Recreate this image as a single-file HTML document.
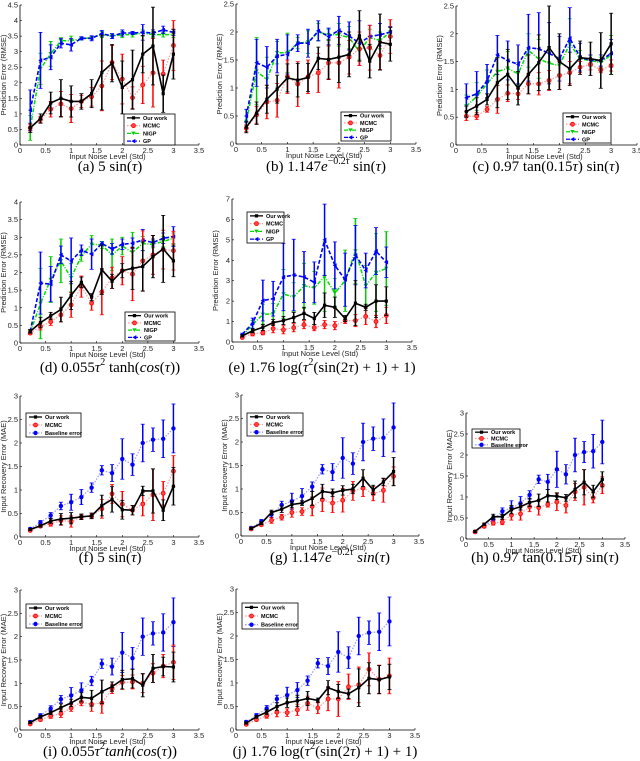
<!DOCTYPE html>
<html><head><meta charset="utf-8">
<style>
body{margin:0;background:#fff;width:640px;height:761px;overflow:hidden;position:relative;}
svg{position:absolute;left:0;top:0;}
.cap{position:absolute;font-family:"Liberation Serif",serif;font-size:15px;line-height:15px;color:#000;white-space:nowrap;transform:translateX(-50%);}
.cap i{font-style:italic;}
.cap sup{font-size:10px;vertical-align:0;position:relative;top:-7px;line-height:0;}
</style></head>
<body>
<svg id="fig" width="640" height="761"></svg>
<div class="cap" style="left:110px;top:160px">(a) 5 sin(<i>τ</i>)</div>
<div class="cap" style="left:326px;top:160px">(b) 1.147<i>e</i><sup>−0.2<i>τ</i></sup> sin(<i>τ</i>)</div>
<div class="cap" style="left:546px;top:160px">(c) 0.97 tan(0.15<i>τ</i>) sin(<i>τ</i>)</div>
<div class="cap" style="left:110px;top:361px">(d) 0.055<i>τ</i><sup>2</sup> tanh(<i>cos</i>(<i>τ</i>))</div>
<div class="cap" style="left:322px;top:361px">(e) 1.76 log(<i>τ</i><sup>2</sup>(sin(2<i>τ</i>) + 1) + 1)</div>
<div class="cap" style="left:110px;top:551px">(f) 5 sin(<i>τ</i>)</div>
<div class="cap" style="left:330px;top:551px">(g) 1.147<i>e</i><sup>−0.2<i>τ</i></sup> <i>sin</i>(<i>τ</i>)</div>
<div class="cap" style="left:545px;top:551px">(h) 0.97 tan(0.15<i>τ</i>) sin(<i>τ</i>)</div>
<div class="cap" style="left:110px;top:745px">(i) 0.055<i>τ</i><sup>2</sup><i>tanh</i>(<i>cos</i>(<i>τ</i>))</div>
<div class="cap" style="left:325px;top:745px">(j) 1.76 log(<i>τ</i><sup>2</sup>(sin(2<i>τ</i>) + 1) + 1)</div>
<script>
const xs=[0.2,0.4,0.6,0.8,1.0,1.2,1.4,1.6,1.8,2.0,2.2,2.4,2.6,2.8,3.0];
const xTicks=["0","0.5","1","1.5","2","2.5","3","3.5"];
// (a)
const aOur=[0.55,0.85,1.35,1.5,1.4,1.4,1.65,2.33,2.63,1.85,2.1,2.92,3.18,1.65,2.92];
const aOurErr=[0.15,0.15,0.35,0.6,0.5,0.25,0.45,1.2,0.6,0.85,0.95,0.6,1.25,0.6,0.8];
const aMcmc=[0.55,0.82,1.15,1.32,1.17,1.4,1.55,1.9,2.65,2.12,1.52,1.93,2.32,2.28,3.2];
const aMcmcErr=[0.1,0.1,0.25,0.4,0.45,0.2,0.3,0.8,0.55,0.8,0.35,0.6,1.1,0.45,0.8];
const aNigp=[0.55,2.45,2.93,3.35,3.35,3.42,3.45,3.55,3.5,3.55,3.55,3.6,3.55,3.55,3.55];
const aNigpErr=[0.4,0.5,0.4,0.1,0.15,0.05,0.05,0.1,0.08,0.1,0.08,0.1,0.1,0.08,0.1];
const aGp=[1.12,2.72,2.82,3.27,3.22,3.43,3.43,3.58,3.5,3.6,3.6,3.62,3.6,3.7,3.62];
const aGpErr=[0.65,0.9,0.4,0.15,0.2,0.05,0.08,0.1,0.08,0.1,0.05,0.25,0.1,0.12,0.1];
// (b)
const bOur=[0.3,0.55,0.8,0.98,1.18,1.14,1.19,1.53,1.51,1.55,1.6,1.93,1.48,1.82,1.78];
const bOurErr=[0.1,0.2,0.25,0.25,0.25,0.3,0.25,0.2,0.35,0.45,0.4,0.45,0.3,0.5,0.3];
const bMcmc=[0.28,0.52,0.75,0.78,1.2,1.07,1.2,1.27,1.45,1.45,1.55,1.7,1.72,1.58,1.92];
const bMcmcErr=[0.06,0.15,0.3,0.3,0.3,0.4,0.3,0.35,0.3,0.45,0.3,0.3,0.4,0.25,0.3];
const bNigp=[0.4,1.3,1.15,1.63,1.63,1.8,1.82,2.0,1.95,1.95,1.9,1.65,1.9,1.85,2.0];
const bNigpErr=[0.1,0.6,0.4,0.2,0.35,0.1,0.2,0.15,0.1,0.2,0.2,0.15,0.15,0.15,0.1];
const bGp=[0.5,1.45,1.37,1.57,1.6,1.8,1.8,2.02,1.92,2.03,1.93,1.8,1.92,1.95,2.0];
const bGpErr=[0.12,0.42,0.37,0.3,0.35,0.15,0.25,0.18,0.15,0.25,0.25,0.4,0.2,0.2,0.1];
// (c)
const cOur=[0.6,0.7,0.82,1.12,1.27,1.02,1.27,1.48,1.75,1.5,1.37,1.57,1.55,1.52,1.82];
const cOurErr=[0.1,0.15,0.1,0.45,0.45,0.3,0.35,0.5,0.75,0.5,0.3,0.3,0.3,0.5,0.55];
const cMcmc=[0.52,0.52,0.64,0.82,0.93,0.92,1.1,1.1,1.16,1.25,1.3,1.4,1.45,1.35,1.43];
const cMcmcErr=[0.08,0.06,0.05,0.25,0.15,0.1,0.18,0.2,0.18,0.25,0.2,0.1,0.1,0.05,0.1];
const cNigp=[0.7,0.87,1.1,1.32,1.38,1.28,1.7,1.55,1.47,1.43,1.82,1.55,1.52,1.48,1.62];
const cNigpErr=[0.2,0.25,0.25,0.25,0.3,0.2,0.3,0.35,0.3,0.15,0.45,0.15,0.1,0.1,0.35];
const cGp=[0.85,0.92,1.15,1.62,1.52,1.45,1.75,1.73,1.65,1.55,1.92,1.58,1.52,1.52,1.65];
const cGpErr=[0.25,0.4,0.3,0.35,0.35,0.35,0.6,0.65,0.55,0.4,0.55,0.25,0.1,0.1,0.25];
// (d)
const dOur=[0.33,0.58,0.77,0.95,1.35,1.72,1.3,2.08,1.75,2.05,2.12,2.17,2.45,2.67,2.33];
const dOurErr=[0.05,0.15,0.1,0.35,0.4,0.15,0.1,0.7,0.2,0.2,0.6,0.7,0.6,0.95,0.45];
const dMcmc=[0.28,0.47,0.6,0.8,1.08,1.6,1.13,1.45,1.85,2.05,1.95,2.33,2.5,2.65,2.62];
const dMcmcErr=[0.04,0.1,0.1,0.2,0.35,0.3,0.2,0.65,0.3,0.4,0.75,0.85,0.55,0.55,0.55];
const dNigp=[0.3,1.12,1.8,2.33,1.85,2.47,2.8,2.78,2.5,2.75,2.57,2.82,2.8,2.88,2.97];
const dNigpErr=[0.05,1.0,0.65,0.62,0.4,0.15,0.25,0.1,0.45,0.25,0.57,0.2,0.1,0.15,0.15];
const dGp=[0.33,1.7,1.67,2.5,2.33,2.63,2.52,2.82,2.67,2.8,2.83,2.92,2.85,2.97,3.02];
const dGpErr=[0.05,0.88,0.5,0.25,0.65,0.15,0.43,0.05,0.15,0.15,0.15,0.3,0.1,0.15,0.28];
// (e)
const eOur=[0.3,0.55,0.72,0.95,1.05,1.2,1.4,1.15,1.8,1.7,1.15,1.9,1.7,2.0,2.0];
const eOurErr=[0.05,0.1,0.15,0.15,0.2,0.25,0.3,0.3,0.6,0.5,0.15,1.1,0.15,0.8,0.7];
const eMcmc=[0.22,0.4,0.45,0.65,0.6,0.7,0.85,0.7,0.85,0.8,1.05,1.05,1.25,1.0,1.3];
const eMcmcErr=[0.05,0.1,0.1,0.2,0.2,0.2,0.2,0.15,0.2,0.2,0.15,0.3,0.4,0.3,0.4];
const eNigp=[0.3,0.85,1.35,1.38,2.35,2.2,2.75,2.65,3.2,2.4,3.0,4.45,2.75,3.4,3.6];
const eNigpErr=[0.05,0.2,0.5,0.5,1.2,0.7,1.1,0.8,1.7,0.7,1.5,1.6,1.0,1.9,1.8];
const eGp=[0.38,0.92,2.03,2.12,3.18,3.28,3.18,2.92,5.0,3.75,3.05,4.25,3.5,4.45,3.9];
const eGpErr=[0.05,0.25,1.0,0.85,1.65,1.75,1.25,1.0,1.75,1.15,1.3,1.45,0.85,1.15,0.75];
// baseline (f-j)
const baseline=[0.17,0.31,0.46,0.66,0.74,0.85,1.05,1.42,1.36,1.66,1.54,2.0,2.07,2.09,2.31];
const baselineErr=[0.03,0.04,0.06,0.08,0.17,0.16,0.1,0.1,0.18,0.43,0.23,0.4,0.25,0.4,0.52];
const fOur=[0.16,0.24,0.34,0.38,0.4,0.43,0.45,0.67,0.8,0.58,0.57,0.98,0.98,0.57,1.08];
const fOurErr=[0.02,0.03,0.05,0.12,0.12,0.06,0.06,0.22,0.27,0.2,0.1,0.1,0.47,0.22,0.4];
const fMcmc=[0.14,0.23,0.28,0.35,0.33,0.43,0.44,0.6,0.92,0.7,0.57,0.7,0.9,0.93,1.4];
const fMcmcErr=[0.02,0.03,0.05,0.1,0.12,0.05,0.05,0.2,0.2,0.27,0.1,0.25,0.55,0.25,0.33];
const gOur=[0.16,0.27,0.5,0.57,0.67,0.7,0.8,0.95,0.92,0.97,1.0,1.23,0.98,1.15,1.37];
const gOurErr=[0.02,0.03,0.05,0.07,0.07,0.05,0.15,0.15,0.08,0.1,0.1,0.18,0.1,0.08,0.3];
const gMcmc=[0.15,0.24,0.33,0.4,0.5,0.52,0.63,0.77,0.7,0.76,0.96,1.02,0.9,0.97,1.27];
const gMcmcErr=[0.02,0.03,0.06,0.06,0.1,0.08,0.2,0.25,0.2,0.25,0.2,0.18,0.15,0.25,0.2];
const hOur=[0.18,0.35,0.53,0.53,0.7,0.77,0.87,0.92,1.03,1.02,0.98,1.18,1.35,1.13,1.42];
const hOurErr=[0.02,0.03,0.06,0.06,0.1,0.08,0.1,0.15,0.15,0.08,0.08,0.2,0.3,0.15,0.18];
const hMcmc=[0.17,0.3,0.38,0.4,0.57,0.6,0.77,0.75,0.82,0.88,0.8,1.12,1.23,0.98,1.28];
const hMcmcErr=[0.02,0.03,0.05,0.06,0.12,0.15,0.12,0.18,0.06,0.2,0.18,0.2,0.42,0.12,0.2];
const iOur=[0.16,0.28,0.37,0.48,0.58,0.7,0.68,0.82,0.93,1.08,1.1,0.96,1.32,1.36,1.35];
const iOurErr=[0.02,0.03,0.04,0.08,0.08,0.1,0.17,0.25,0.1,0.2,0.2,0.25,0.3,0.2,0.32];
const iMcmc=[0.13,0.22,0.3,0.35,0.47,0.6,0.55,0.58,0.88,1.02,1.03,1.0,1.22,1.37,1.45];
const iMcmcErr=[0.02,0.03,0.05,0.08,0.07,0.08,0.15,0.22,0.1,0.15,0.15,0.2,0.2,0.25,0.37];
const jOur=[0.15,0.28,0.38,0.5,0.58,0.62,0.67,0.63,0.9,0.82,0.77,0.9,1.1,1.07,1.13];
const jOurErr=[0.02,0.03,0.05,0.08,0.1,0.12,0.15,0.05,0.15,0.15,0.1,0.4,0.33,0.3,0.27];
const jMcmc=[0.12,0.22,0.3,0.38,0.37,0.43,0.57,0.47,0.66,0.66,0.92,0.96,1.29,1.08,1.15];
const jMcmcErr=[0.02,0.03,0.05,0.1,0.08,0.12,0.15,0.12,0.25,0.37,0.27,0.38,0.35,0.3,0.38];

const NS="http://www.w3.org/2000/svg";
const svg=document.getElementById('fig');
function mk(tag,attrs,parent){const e=document.createElementNS(NS,tag);for(const k in attrs)e.setAttribute(k,attrs[k]);(parent||svg).appendChild(e);return e;}

const ST={
 our:{line:'#000',err:'#000',dash:'',lw:1.6,mk:'square',mc:'#000',label:'Our work'},
 mcmc:{line:'#ff9a9a',err:'#f00',dash:'1.5,1.5',lw:1.2,mk:'circle',mc:'#f00',label:'MCMC'},
 nigp:{line:'#00dd00',err:'#00cc00',dash:'4,1.5,1,1.5',lw:1.5,mk:'tri',mc:'#00cc00',label:'NIGP'},
 gp:{line:'#0000ff',err:'#0000ff',dash:'4,2',lw:1.6,mk:'tril',mc:'#0000ff',label:'GP'},
 base:{line:'#9a9aff',err:'#0000ff',dash:'1.5,1.5',lw:1.2,mk:'dot',mc:'#0000ff',label:'Baseline error'}
};
function marker(g,kind,cx,cy,c){
 if(kind==='square')mk('rect',{x:cx-1.6,y:cy-1.6,width:3.2,height:3.2,fill:c},g);
 else if(kind==='circle')mk('circle',{cx:cx,cy:cy,r:2,fill:'#f44',stroke:c,'stroke-width':0.8},g);
 else if(kind==='dot')mk('circle',{cx:cx,cy:cy,r:2.2,fill:c},g);
 else if(kind==='tri')mk('polygon',{points:`${cx-2.2},${cy-1.8} ${cx+2.2},${cy-1.8} ${cx},${cy+1.8}`,fill:c},g);
 else mk('polygon',{points:`${cx-2.2},${cy} ${cx+1.8},${cy-2.2} ${cx+1.8},${cy+2.2}`,fill:c},g);
}

const panels=[
 {id:'a',x0:20,x1:199,yt:5,yb:145,ymax:4.5,ylab:'Prediction Error (RMSE)',series:[['nigp',aNigp,aNigpErr],['gp',aGp,aGpErr],['mcmc',aMcmc,aMcmcErr],['our',aOur,aOurErr]],leg:[124,114,51,31],keys:['our','mcmc','nigp','gp']},
 {id:'b',x0:236,x1:416,yt:4,yb:144,ymax:2.5,ylab:'Prediction Error (RMSE)',series:[['nigp',bNigp,bNigpErr],['gp',bGp,bGpErr],['mcmc',bMcmc,bMcmcErr],['our',bOur,bOurErr]],leg:[341,112,50,29],keys:['our','mcmc','nigp','gp']},
 {id:'c',x0:456,x1:637,yt:6,yb:145,ymax:2.5,ylab:'Prediction Error (RMSE)',series:[['nigp',cNigp,cNigpErr],['gp',cGp,cGpErr],['mcmc',cMcmc,cMcmcErr],['our',cOur,cOurErr]],leg:[563,113,48,30],keys:['our','mcmc','nigp','gp']},
 {id:'d',x0:20,x1:199,yt:202,yb:343,ymax:4,ylab:'Prediction Error (RMSE)',series:[['nigp',dNigp,dNigpErr],['gp',dGp,dGpErr],['mcmc',dMcmc,dMcmcErr],['our',dOur,dOurErr]],leg:[125,312,50,29],keys:['our','mcmc','nigp','gp']},
 {id:'e',x0:232,x1:412,yt:199,yb:342,ymax:7,ylab:'Prediction Error (RMSE)',series:[['nigp',eNigp,eNigpErr],['gp',eGp,eGpErr],['mcmc',eMcmc,eMcmcErr],['our',eOur,eOurErr]],leg:[247,212,37,31],keys:['our','mcmc','nigp','gp']},
 {id:'f',x0:20,x1:199,yt:396,yb:537,ymax:3,ylab:'Input Recovery Error (MAE)',series:[['base',baseline,baselineErr],['mcmc',fMcmc,fMcmcErr],['our',fOur,fOurErr]],leg:[26,413,55,24],keys:['our','mcmc','base']},
 {id:'g',x0:241,x1:419,yt:395,yb:536,ymax:3,ylab:'Input Recovery Error (MAE)',series:[['base',baseline,baselineErr],['mcmc',gMcmc,gMcmcErr],['our',gOur,gOurErr]],leg:[247,413,56,23],keys:['our','mcmc','base']},
 {id:'h',x0:466,x1:625,yt:413,yb:539,ymax:3,ylab:'Input Recovery Error (MAE)',series:[['base',baseline,baselineErr],['mcmc',hMcmc,hMcmcErr],['our',hOur,hOurErr]],leg:[472,429,48,19],keys:['our','mcmc','base']},
 {id:'i',x0:20,x1:199,yt:590,yb:730,ymax:3,ylab:'Input Recovery Error (MAE)',series:[['base',baseline,baselineErr],['mcmc',iMcmc,iMcmcErr],['our',iOur,iOurErr]],leg:[26,604,56,24],keys:['our','mcmc','base']},
 {id:'j',x0:236,x1:415,yt:589,yb:730,ymax:3,ylab:'Input Recovery Error (MAE)',series:[['base',baseline,baselineErr],['mcmc',jMcmc,jMcmcErr],['our',jOur,jOurErr]],leg:[242,603,56,26],keys:['our','mcmc','base']}
];

panels.forEach(p=>{
 const g=mk('g',{});
 
 
 const sx=v=>p.x0+v/3.5*(p.x1-p.x0);
 const sy=v=>p.yb-v/p.ymax*(p.yb-p.yt);
 const step=p.ymax>5?1:0.5;
 mk('line',{x1:p.x0,y1:p.yt,x2:p.x0,y2:p.yb,stroke:'#000','stroke-width':0.8},g);
 mk('line',{x1:p.x0,y1:p.yb,x2:p.x1,y2:p.yb,stroke:'#000','stroke-width':0.8},g);
 xTicks.forEach((t,k)=>{const x=sx(k*0.5);
  mk('line',{x1:x,y1:p.yb,x2:x,y2:p.yb-2,stroke:'#000','stroke-width':0.6},g);
  const tx=mk('text',{x:x,y:p.yb+8,'font-size':7.5,'font-family':'Liberation Sans,sans-serif','text-anchor':'middle',fill:'#222'},g);tx.textContent=t;});
 for(let v=0;v<=p.ymax+1e-9;v+=step){const y=sy(v);
  mk('line',{x1:p.x0,y1:y,x2:p.x0+2,y2:y,stroke:'#000','stroke-width':0.6},g);
  const tx=mk('text',{x:p.x0-2,y:y+2.5,'font-size':7.5,'font-family':'Liberation Sans,sans-serif','text-anchor':'end',fill:'#222'},g);tx.textContent=String(Math.round(v*10)/10);}
 const xl=mk('text',{x:(p.x0+p.x1)/2-2,y:p.yb+14,'font-size':7.5,'font-family':'Liberation Sans,sans-serif','text-anchor':'middle',fill:'#222'},g);
 xl.textContent='Input Noise Level (Std)';
 
 
 const yc=(p.yt+p.yb)/2;
 const yl=mk('text',{x:p.x0-14,y:yc,'font-size':7.5,'font-family':'Liberation Sans,sans-serif','text-anchor':'middle',fill:'#222',transform:`rotate(-90 ${p.x0-14} ${yc})`},g);
 yl.textContent=p.ylab;
 
 
 p.series.forEach(([key,vals,errs])=>{
  const s=ST[key];
  const sg=mk('g',{},g);
  
  
  vals.forEach((v,i)=>{const x=sx(xs[i]);const e=errs[i];
   mk('line',{x1:x,y1:sy(v-e),x2:x,y2:sy(v+e),stroke:s.err,'stroke-width':1.5},sg);
   mk('line',{x1:x-2,y1:sy(v-e),x2:x+2,y2:sy(v-e),stroke:s.err,'stroke-width':0.8},sg);
   mk('line',{x1:x-2,y1:sy(v+e),x2:x+2,y2:sy(v+e),stroke:s.err,'stroke-width':0.8},sg);});
  const pts=vals.map((v,i)=>sx(xs[i]).toFixed(1)+','+sy(v).toFixed(1)).join(' ');
  const pl=mk('polyline',{points:pts,fill:'none',stroke:s.line,'stroke-width':s.lw,'stroke-dasharray':s.dash},sg);
  
  
  vals.forEach((v,i)=>marker(sg,s.mk,sx(xs[i]),sy(v),s.mc));
 });
 const [lx,ly,lw,lh]=p.leg;
 const lg=mk('g',{},g);
 
 
 mk('rect',{x:lx,y:ly,width:lw,height:lh,fill:'#fff',stroke:'#000','stroke-width':0.8},lg);
 const rh=lh/p.keys.length;
 p.keys.forEach((k,i)=>{const s=ST[k];const y=ly+rh*(i+0.5);
  const eg=mk('g',{},lg);
  
  
  mk('line',{x1:lx+3,y1:y,x2:lx+16,y2:y,stroke:s.line,'stroke-width':1.3,'stroke-dasharray':s.dash},eg);
  marker(eg,s.mk,lx+9.5,y,s.mc);
  const t=mk('text',{x:lx+19,y:y+2,'font-size':5.5,'font-weight':'bold','font-family':'Liberation Sans,sans-serif',fill:'#000'},eg);
  t.textContent=s.label;});
});
</script>
</body></html>
